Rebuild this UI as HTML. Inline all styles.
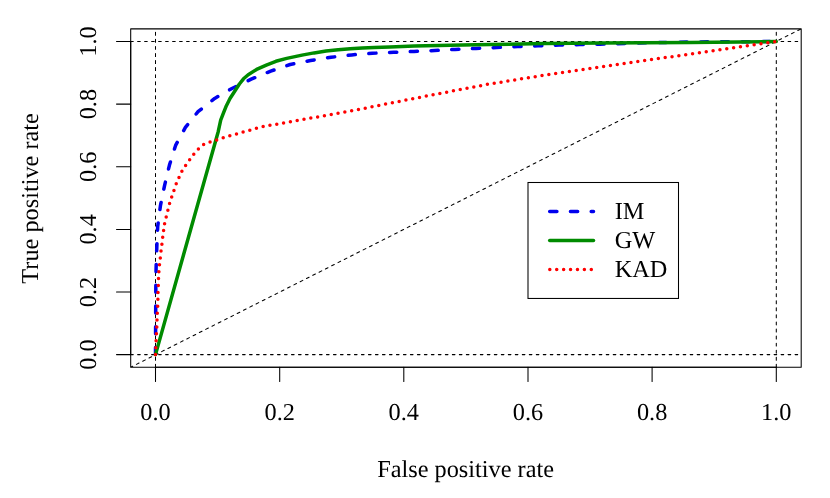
<!DOCTYPE html>
<html><head><meta charset="utf-8"><title>ROC curves</title>
<style>
html,body{margin:0;padding:0;background:#fff;}
svg{display:block;will-change:transform;}
text{font-family:"Liberation Serif",serif;font-size:24.3px;fill:#000;text-rendering:geometricPrecision;}
</style></head>
<body>
<svg width="830" height="498" viewBox="0 0 830 498">
<rect x="0" y="0" width="830" height="498" fill="#ffffff"/>
<defs><clipPath id="plot"><rect x="130.7" y="28.85" width="670.5" height="338.4"/></clipPath></defs>
<g clip-path="url(#plot)" fill="none" stroke="#000" stroke-width="1.05" stroke-linecap="round">
<path d="M130.7,367.25 L801.15,28.85" stroke-dasharray="2.9 4.156" stroke-dashoffset="0.65"/>
<path d="M130.7,354.6 L801.15,354.6" stroke-dasharray="2.6 4.394" stroke-dashoffset="0.05"/>
<path d="M130.7,41.5 L801.15,41.5" stroke-dasharray="2.6 4.394" stroke-dashoffset="0.05"/>
<path d="M155.5,367.25 L155.5,28.85" stroke-dasharray="2.9 4.165"/>
<path d="M776.3,367.25 L776.3,28.85" stroke-dasharray="2.9 4.165"/>
</g>
<g clip-path="url(#plot)" fill="none" stroke-linecap="round" stroke-linejoin="round">
<path d="M155.5,354.6 L155.6,330.0 L155.7,309.6 L155.8,288.8 L156.1,268.0 L156.8,247.5 L157.7,226.6 L160.4,205.9 L164.5,185.8 L169.4,165.3 L175.6,145.4 L185.4,127.4 L198.0,111.7 L214.7,98.4 L231.9,88.5 L251.2,79.2 L270.7,71.1 L290.2,64.5 L310.5,60.5 L331.0,57.3 L351.7,54.9 L372.3,53.3 L393.6,52.3 L414.1,51.4 L434.6,50.5 L455.1,49.4 L475.9,48.4 L517.5,46.6 L538.0,45.8 L559.0,45.1 L579.5,44.6 L600.0,44.2 L650.0,42.7 L700.0,41.9 L776.3,41.5" stroke="#0000ee" stroke-width="3.5" stroke-dasharray="7.2 13.55"/>
<path d="M155.5,354.6 L187.7,240.0 L204.6,180.0 L214.2,146.0 L218.2,131.7 L220.7,120.1 L223.5,112.9 L226.4,105.7 L230.0,98.5 L234.7,91.2 L239.4,84.0 L243.5,78.8 L248.2,74.7 L256.6,69.4 L266.3,65.1 L275.9,61.3 L286.7,58.4 L302.0,55.1 L314.1,52.9 L326.1,51.1 L338.2,49.8 L350.2,48.7 L362.3,48.0 L374.3,47.4 L390.0,46.9 L414.1,46.1 L438.2,45.5 L462.3,45.0 L490.0,44.5 L545.0,43.5 L600.0,43.0 L690.0,42.5 L776.3,41.5" stroke="#008b00" stroke-width="3.5"/>
<path d="M155.5,354.6 L155.8,347.8 L156.1,341.0 L156.4,334.0 L156.8,327.0 L157.0,320.1 L157.3,313.3 L157.7,306.3 L157.9,299.0 L158.0,292.4 L158.3,285.5 L158.5,278.6 L158.9,271.6 L159.5,264.7 L160.3,257.8 L161.0,251.1 L161.9,244.2 L162.7,237.2 L163.6,230.4 L164.6,223.6 L166.2,216.9 L167.9,210.1 L169.6,203.4 L171.7,196.9 L173.9,190.5 L176.2,183.9 L179.0,177.5 L182.0,171.0 L185.8,165.1 L189.8,159.6 L193.8,154.2 L198.4,149.1 L203.6,144.6 L210.2,142.0 L216.6,140.0 L223.0,137.8 L229.6,135.8 L236.3,134.0 L243.1,131.9 L249.8,130.2 L256.6,128.2 L263.3,126.5 L270.0,125.3 L276.8,124.2 L283.6,122.9 L290.0,121.8 L351.7,110.8 L420.0,97.3 L487.5,84.3 L555.8,73.4 L597.0,67.5 L686.0,54.6 L776.3,41.5" stroke="#ff0000" stroke-width="3.5" stroke-dasharray="0 6.915"/>
</g>
<g fill="none" stroke="#000" stroke-width="1.05" stroke-linecap="round" stroke-linejoin="round">
<rect x="130.7" y="28.85" width="670.5" height="338.4"/>
<path d="M155.5,367.25 L776.3,367.25"/>
<path d="M155.5,367.25 L155.5,381.4"/>
<path d="M279.7,367.25 L279.7,381.4"/>
<path d="M403.8,367.25 L403.8,381.4"/>
<path d="M528.0,367.25 L528.0,381.4"/>
<path d="M652.1,367.25 L652.1,381.4"/>
<path d="M776.3,367.25 L776.3,381.4"/>
<path d="M130.7,354.6 L130.7,41.5"/>
<path d="M130.7,354.6 L116.5,354.6"/>
<path d="M130.7,292.0 L116.5,292.0"/>
<path d="M130.7,229.4 L116.5,229.4"/>
<path d="M130.7,166.7 L116.5,166.7"/>
<path d="M130.7,104.1 L116.5,104.1"/>
<path d="M130.7,41.5 L116.5,41.5"/>
</g>
<text x="155.5" y="419.5" text-anchor="middle">0.0</text>
<text x="279.7" y="419.5" text-anchor="middle">0.2</text>
<text x="403.8" y="419.5" text-anchor="middle">0.4</text>
<text x="528.0" y="419.5" text-anchor="middle">0.6</text>
<text x="652.1" y="419.5" text-anchor="middle">0.8</text>
<text x="776.3" y="419.5" text-anchor="middle">1.0</text>
<text transform="translate(96.4,354.6) rotate(-90)" text-anchor="middle">0.0</text>
<text transform="translate(96.4,292.0) rotate(-90)" text-anchor="middle">0.2</text>
<text transform="translate(96.4,229.4) rotate(-90)" text-anchor="middle">0.4</text>
<text transform="translate(96.4,166.7) rotate(-90)" text-anchor="middle">0.6</text>
<text transform="translate(96.4,104.1) rotate(-90)" text-anchor="middle">0.8</text>
<text transform="translate(96.4,41.5) rotate(-90)" text-anchor="middle">1.0</text>
<text x="465.6" y="477.1" text-anchor="middle">False positive rate</text>
<text transform="translate(38.2,198.4) rotate(-90)" text-anchor="middle">True positive rate</text>
<rect x="528.0" y="182.5" width="150.5" height="115.95" fill="#fff" stroke="#000" stroke-width="1.05" stroke-linejoin="miter"/>
<g fill="none" stroke-linecap="round">
<path d="M549.7,211.5 L593.5,211.5" stroke="#0000ee" stroke-width="3.5" stroke-dasharray="7.2 13.55"/>
<path d="M549.7,240.5 L593.5,240.5" stroke="#008b00" stroke-width="3.5"/>
<path d="M549.8,269.4 L593.5,269.4" stroke="#ff0000" stroke-width="3.5" stroke-dasharray="0 6.915"/>
</g>
<text x="614.7" y="219.2">IM</text>
<text x="614.7" y="248.3">GW</text>
<text x="614.7" y="277.4">KAD</text>
</svg>
</body></html>
